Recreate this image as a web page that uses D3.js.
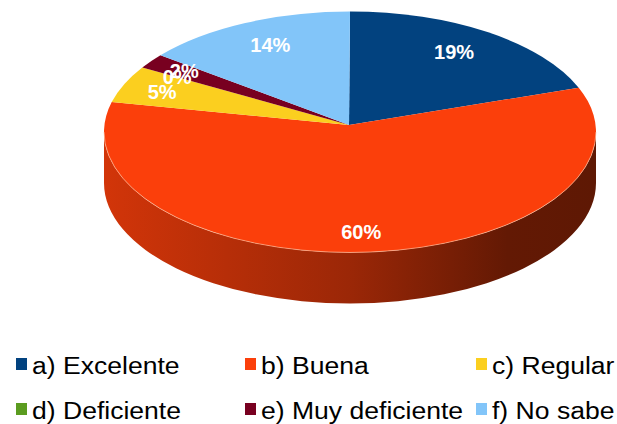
<!DOCTYPE html>
<html>
<head>
<meta charset="utf-8">
<script src="https://cdn.jsdelivr.net/npm/d3@7"></script>
<style>
  html, body { margin: 0; padding: 0; background: #fff; }
  svg { display: block; font-family: "Liberation Sans", Arial, sans-serif; }
</style>
</head>
<body>
<div id="chart"></div>
<script>
// data
const categories = ["a) Excelente", "b) Buena", "c) Regular", "d) Deficiente", "e) Muy deficiente", "f) No sabe"];
const values = [19, 60, 5, 0, 2, 14];
const colors = ["#02427f", "#fb3f0b", "#fbcf1f", "#5b9c20", "#780020", "#82c5f9"];

const width = 617, height = 424;

// pie geometry (3d ellipse)
const cx = 350, cy = 132, rx = 246, ry = 120.5, depth = 51;
const apex = [349, 125];

let svg = d3.select("#chart").append("svg")
  .attr("width", width)
  .attr("height", height);

let defs = svg.append("defs");

let arcs = d3.pie().sort(null).value(d => d)(values);

function pt(a, dy) {
  return [cx + rx * Math.sin(a), cy - ry * Math.cos(a) + (dy || 0)];
}

// side walls (only the front half is visible)
let sides = svg.append("g");
arcs.forEach((d, i) => {
  let s = Math.max(d.startAngle, Math.PI / 2);
  let e = Math.min(d.endAngle, 3 * Math.PI / 2);
  if (e <= s) return;
  let c = colors[i];
  let grad = defs.append("linearGradient")
    .attr("id", "side" + i)
    .attr("gradientUnits", "userSpaceOnUse")
    .attr("x1", cx - rx).attr("x2", cx + rx)
    .attr("y1", 0).attr("y2", 0);
  [[0, 0.5], [0.5, 1.35], [0.82, 2.6], [1, 2.75]].forEach(st => {
    grad.append("stop").attr("offset", st[0]).attr("stop-color", d3.color(c).darker(st[1]));
  });
  let p0 = pt(s), p1 = pt(e), p2 = pt(e, depth), p3 = pt(s, depth);
  let path = "M" + p0 + "A" + rx + "," + ry + " 0 0 1 " + p1 +
    "L" + p2 + "A" + rx + "," + ry + " 0 0 0 " + p3 + "Z";
  sides.append("path")
    .attr("d", path)
    .attr("fill", "url(#side" + i + ")");
});

// top faces
let faces = svg.append("g");
arcs.forEach((d, i) => {
  if (d.endAngle - d.startAngle <= 0) return;
  let p0 = pt(d.startAngle), p1 = pt(d.endAngle);
  let large = (d.endAngle - d.startAngle) > Math.PI ? 1 : 0;
  faces.append("path")
    .attr("d", "M" + apex + "L" + p0 + "A" + rx + "," + ry + " 0 " + large + " 1 " + p1 + "Z")
    .attr("fill", colors[i]);
});

// light rim along the front edge
faces.append("path")
  .attr("d", "M" + pt(Math.PI / 2) + "A" + rx + "," + ry + " 0 0 1 " + pt(3 * Math.PI / 2))
  .attr("fill", "none")
  .attr("stroke", "#ffc8a8")
  .attr("stroke-opacity", 0.6)
  .attr("stroke-width", 1);

// percentage labels
let lx = 349.5, ly = 133.6;
svg.append("g")
  .selectAll("text")
  .data(arcs)
  .enter().append("text")
  .attr("x", d => {
    let a = (d.startAngle + d.endAngle) / 2;
    let f = d.data < 10 ? 0.83 : 0.756;
    return lx + rx * f * Math.sin(a);
  })
  .attr("y", d => {
    let a = (d.startAngle + d.endAngle) / 2;
    let f = d.data < 10 ? 0.88 : 0.818;
    return ly - ry * f * Math.cos(a);
  })
  .attr("dy", "0.36em")
  .attr("text-anchor", "middle")
  .attr("fill", "#fff")
  .attr("font-weight", "bold")
  .attr("font-size", 20)
  .text(d => d3.format(".0f")(d.data) + "%");

// legend
let colX = [16, 245, 476];
let rowY = [358, 403];
let legend = svg.append("g")
  .selectAll("g")
  .data(categories)
  .enter().append("g")
  .attr("transform", (d, i) => "translate(" + colX[i % 3] + "," + rowY[Math.floor(i / 3)] + ")");

legend.append("rect")
  .attr("x", 0)
  .attr("y", 0)
  .attr("width", 11)
  .attr("height", 12)
  .attr("fill", (d, i) => colors[i]);

legend.append("text")
  .attr("transform", "translate(16,15.5) scale(1.13,1)")
  .attr("font-size", 23.5)
  .attr("fill", "#000")
  .text(d => d);
</script>
</body>
</html>
